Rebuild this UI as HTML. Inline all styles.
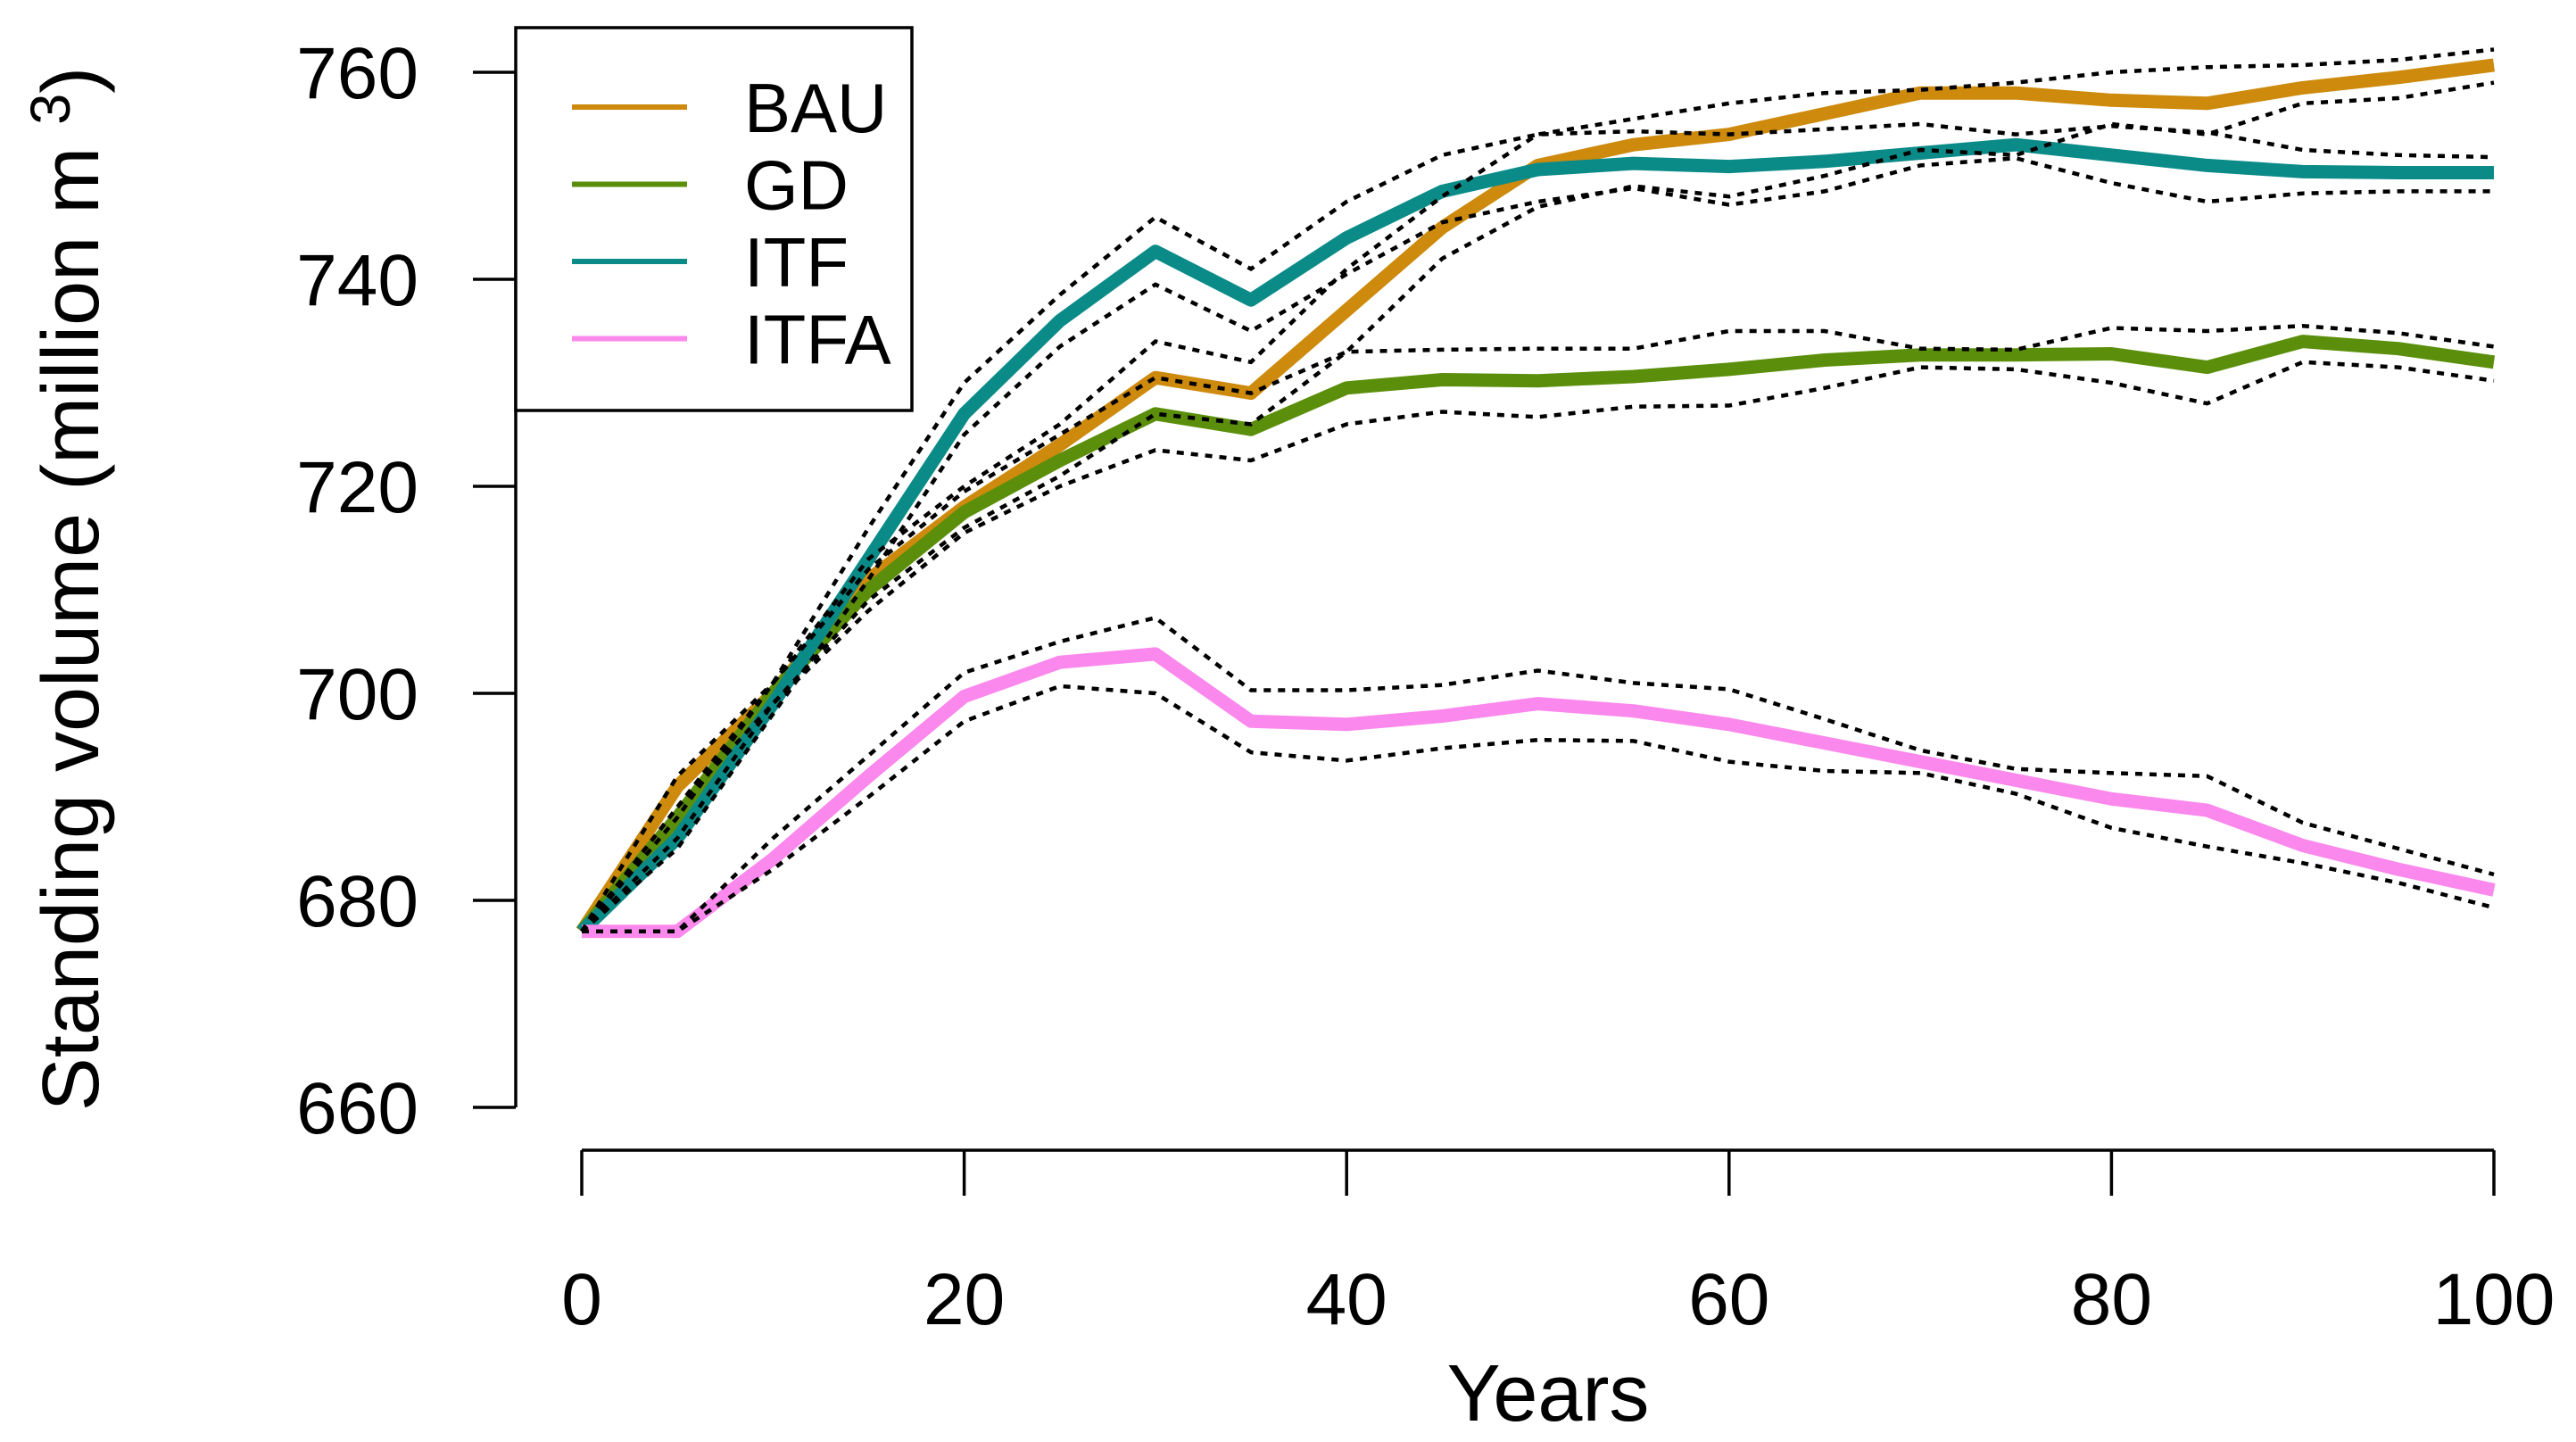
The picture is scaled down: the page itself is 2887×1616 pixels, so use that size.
<!DOCTYPE html>
<html><head><meta charset="utf-8"><style>
html,body{margin:0;padding:0;background:#fff;}
svg{display:block;font-family:"Liberation Sans",Arial,sans-serif;}
</style></head><body>
<svg id="chart" width="2887" height="1616" viewBox="0 0 2887 1616" xmlns="http://www.w3.org/2000/svg">
<g id="axes"></g>
<g id="series"></g>
<g id="legend"></g>
</svg>
<script>
const years = [0,5,10,15,20,25,30,35,40,45,50,55,60,65,70,75,80,85,90,95,100];
const xTicks = [0,20,40,60,80,100];
const yTicks = [660,680,700,720,740,760];
const seriesNames = ["BAU","GD","ITF","ITFA"];
const bauMean = [677,691,700,711,718,724,730.5,729,737,745,751,753,754,756,758,758,757.3,757,758.5,759.5,760.7];
const bauUpper = [677,692,701,713,720,726,734,732,741,748,754,755.5,757,758,758.3,759,760,760.5,760.7,761.2,762.2];
const bauLower = [677,689,699,709,716,721,727,726,733,742,747,749,748,750,752.5,752,755,754,757,757.5,759];
const gdMean = [677,688,700,710,717.5,722.5,727,725.5,729.5,730.3,730.2,730.6,731.3,732.2,732.7,732.7,732.8,731.5,734,733.3,732];
const gdUpper = [677,689,701,712,719.5,725,730.5,729,733,733.2,733.3,733.3,735,735,733.3,733.2,735.3,735,735.5,734.8,733.5];
const gdLower = [677,686,699,708,715.5,720,723.5,722.5,726,727.2,726.7,727.7,727.8,729.5,731.5,731.3,730,728,732,731.5,730.2];
const itfMean = [677,686,699,713,727,736,742.7,738,744,748.5,750.6,751.2,750.9,751.4,752.2,753,752,751,750.4,750.3,750.3];
const itfUpper = [677,688,701,716,730,738.5,746,741,747.5,752,754,754.3,754,754.5,755,754,754.8,754.2,752.5,752,751.8];
const itfLower = [677,685,698,711,725,733.5,739.5,735,740.5,745.5,747.5,748.8,747.2,748.5,751,751.7,749.3,747.5,748.3,748.5,748.5];
const itfaMean = [677,677,684,692,699.7,703,703.8,697.3,697,697.8,699,698.3,697,695.2,693.4,691.6,689.8,688.7,685.3,683,681];
const itfaUpper = [677,677,686,694,702,705,707.3,700.3,700.3,700.8,702.2,701,700.4,697.5,694.5,692.7,692.3,692,687.5,685,682.5];
const itfaLower = [677,677,683,690,697.3,700.7,700,694.3,693.5,694.7,695.5,695.4,693.4,692.5,692.3,690.3,687,685.2,683.6,681.7,679.3];

const NS="http://www.w3.org/2000/svg";
const X0=652,X1=2795,Y0=1241,Y1=81;
function sx(v){return X0+(v-0)/(100-0)*(X1-X0);}
function sy(v){return Y0-(v-660)/(760-660)*(Y0-Y1);}
function mk(tag,attrs,parent){const e=document.createElementNS(NS,tag);for(const k in attrs)e.setAttribute(k,attrs[k]);parent.appendChild(e);return e;}
const axes=document.getElementById('axes'),ser=document.getElementById('series'),leg=document.getElementById('legend');

let yl=mk('line',{x1:578,x2:578,y1:sy(660),y2:sy(760),stroke:'#000','stroke-width':3.5},axes);


yTicks.forEach(t=>{
 let l=mk('line',{x1:530,x2:578,y1:sy(t),y2:sy(t),stroke:'#000','stroke-width':3.5},axes);
 
 
 let tx=mk('text',{x:469,y:sy(t)+29,'font-size':82,'text-anchor':'end'},axes);
 tx.textContent=t;
 
 
});
let xl=mk('line',{x1:sx(0),x2:sx(100),y1:1289,y2:1289,stroke:'#000','stroke-width':3.5},axes);


xTicks.forEach(t=>{
 let l=mk('line',{x1:sx(t),x2:sx(t),y1:1289,y2:1340,stroke:'#000','stroke-width':3.5},axes);
 
 
 let tx=mk('text',{x:sx(t),y:1484,'font-size':82,'text-anchor':'middle'},axes);
 tx.textContent=t;
 
 
});
let xt=mk('text',{x:1735,y:1592,'font-size':90,'text-anchor':'middle'},axes);
xt.textContent='Years';


let yt=mk('text',{x:0,y:0,'font-size':90,'text-anchor':'middle',transform:'translate(110,660) rotate(-90)'},axes);
yt.innerHTML='Standing volume (million m <tspan dy="-32" font-size="63">3</tspan><tspan dy="32">)</tspan>';



const colors={BAU:'#CD8A0C',GD:'#5B8F0B',ITF:'#0B8B88',ITFA:'#FB88EC'};
const data={BAU:[bauMean,bauUpper,bauLower],GD:[gdMean,gdUpper,gdLower],ITF:[itfMean,itfUpper,itfLower],ITFA:[itfaMean,itfaUpper,itfaLower]};
function pts(arr){return arr.map((v,i)=>sx(years[i]).toFixed(1)+','+sy(v).toFixed(1)).join(' ');}
seriesNames.forEach(n=>{
 let p=mk('polyline',{points:pts(data[n][0]),fill:'none',stroke:colors[n],'stroke-width':15,'stroke-linejoin':'round'},ser);
 
 
});
seriesNames.forEach(n=>{
 [1,2].forEach(k=>{
  let p=mk('polyline',{points:pts(data[n][k]),fill:'none',stroke:'#000','stroke-width':4.5,'stroke-dasharray':'8,8'},ser);
  
  
 });
});
let box=mk('rect',{x:578,y:31,width:444,height:429,fill:'#fff',stroke:'#000','stroke-width':3.5},leg);


seriesNames.forEach((n,i)=>{
 const y=120+i*86.5;
 let l=mk('line',{x1:641,x2:770,y1:y,y2:y,stroke:colors[n],'stroke-width':6},leg);
 
 
 let t=mk('text',{x:834,y:y+28,'font-size':78},leg);
 t.textContent=n;
 
 
});
</script>
</body></html>
